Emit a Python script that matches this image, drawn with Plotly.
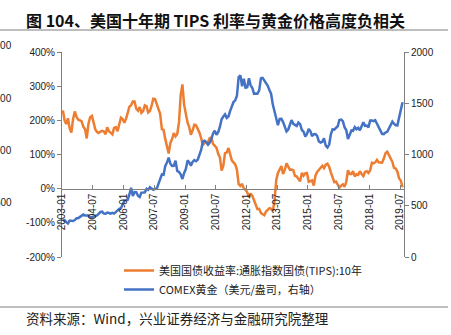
import pandas as pd
import plotly.graph_objects as go

# ---- data (monthly) ----
start_month = "2003-01-01"
tips_10y = [  # 10y TIPS real yield, %  (axis shows x100 as %)
    2.29, 1.99, 1.89, 2.06, 1.77, 1.64, 2.03, 2.26, 2.10, 2.02, 2.00, 1.97,
    1.81, 1.74, 1.47, 1.90, 2.09, 2.13, 1.94, 1.73, 1.66, 1.63, 1.67, 1.69,
    1.67, 1.59, 1.80, 1.68, 1.64, 1.59, 1.78, 1.80, 1.68, 1.90, 2.08, 2.04,
    1.93, 2.05, 2.26, 2.40, 2.44, 2.55, 2.55, 2.34, 2.28, 2.39, 2.22, 2.27,
    2.44, 2.41, 2.23, 2.27, 2.42, 2.63, 2.62, 2.46, 2.30, 2.19, 1.74, 1.72,
    1.45, 1.27, 1.03, 1.34, 1.45, 1.63, 1.53, 1.60, 1.94, 2.74, 3.05, 2.46,
    2.13, 1.93, 1.81, 1.58, 1.70, 1.87, 1.86, 1.77, 1.64, 1.48, 1.27, 1.36,
    1.37, 1.37, 1.48, 1.50, 1.31, 1.25, 1.20, 1.02, 0.91, 0.53, 0.67, 1.04,
    1.06, 1.19, 0.98, 0.83, 0.77, 0.71, 0.55, 0.13, 0.08, 0.14, 0.00, -0.03,
    -0.11, -0.25, -0.14, -0.21, -0.34, -0.50, -0.60, -0.59, -0.71, -0.75, -0.78, -0.67,
    -0.61, -0.57, -0.59, -0.65, -0.36, 0.25, 0.46, 0.55, 0.66, 0.43, 0.55, 0.74,
    0.63, 0.55, 0.56, 0.54, 0.37, 0.36, 0.28, 0.22, 0.46, 0.38, 0.45, 0.46,
    0.20, 0.21, 0.24, 0.09, 0.38, 0.49, 0.54, 0.62, 0.67, 0.60, 0.70, 0.73,
    0.64, 0.47, 0.34, 0.19, 0.21, 0.12, 0.03, 0.09, 0.13, 0.05, 0.20, 0.54,
    0.43, 0.43, 0.51, 0.36, 0.42, 0.40, 0.51, 0.43, 0.37, 0.49, 0.51, 0.46,
    0.54, 0.76, 0.74, 0.77, 0.84, 0.77, 0.77, 0.76, 0.88, 1.04, 1.08, 0.98,
    0.86, 0.78, 0.61, 0.59, 0.50, 0.30, 0.24, 0.04,
]
gold = [  # COMEX gold, USD/oz
    356, 359, 340, 328, 355, 356, 351, 360, 379, 379, 389, 407,
    414, 405, 406, 404, 384, 392, 398, 401, 406, 420, 439, 442,
    424, 423, 434, 429, 422, 430, 424, 438, 456, 470, 476, 510,
    549, 555, 557, 610, 676, 596, 633, 632, 598, 586, 628, 629,
    631, 665, 655, 680, 668, 656, 665, 665, 713, 754, 806, 803,
    889, 923, 969, 910, 889, 890, 940, 840, 830, 807, 761, 817,
    858, 942, 925, 891, 928, 946, 934, 949, 996, 1044, 1128, 1135,
    1118, 1096, 1114, 1149, 1205, 1233, 1193, 1217, 1271, 1343, 1370, 1391,
    1357, 1373, 1424, 1474, 1512, 1529, 1573, 1756, 1772, 1666, 1739, 1652,
    1656, 1743, 1675, 1649, 1592, 1596, 1593, 1626, 1744, 1747, 1722, 1685,
    1671, 1627, 1593, 1487, 1414, 1343, 1286, 1347, 1348, 1316, 1275, 1225,
    1244, 1300, 1336, 1299, 1288, 1279, 1311, 1296, 1239, 1223, 1176, 1200,
    1250, 1227, 1179, 1198, 1199, 1181, 1128, 1117, 1125, 1157, 1086, 1068,
    1097, 1199, 1246, 1243, 1260, 1276, 1337, 1341, 1326, 1266, 1236, 1152,
    1192, 1234, 1231, 1267, 1246, 1260, 1236, 1283, 1315, 1280, 1282, 1265,
    1331, 1331, 1325, 1335, 1303, 1282, 1238, 1202, 1198, 1215, 1221, 1250,
    1291, 1320, 1300, 1285, 1284, 1359, 1413, 1510,
]
x_tick_labels = ["2003-01", "2004-07", "2006-01", "2007-07", "2009-01", "2010-07",
                 "2012-01", "2013-07", "2015-01", "2016-07", "2018-01", "2019-07"]
left_ticks = [-2, -1, 0, 1, 2, 3, 4]
left_tick_text = ["-200%", "-100%", "0%", "100%", "200%", "300%", "400%"]
right_ticks = [0, 500, 1000, 1500, 2000]

dates = pd.date_range(start_month, periods=len(gold), freq="MS") + pd.Timedelta(days=14)
tips_dates = pd.date_range(start_month, periods=len(tips_10y), freq="MS") + pd.Timedelta(days=14)
tick_dates = [pd.Timestamp(t + "-01") for t in x_tick_labels]

name_tips = "美国国债收益率:通胀指数国债(TIPS):10年"
name_gold = "COMEX黄金（美元/盎司，右轴）"

W, H = 451, 335
L, R, T, B = 62, 404, 52, 257


def px(xp):
    return (xp - L) / (R - L)


def py(yp):
    return (B - yp) / (B - T)


fig = go.Figure()
fig.add_trace(go.Scatter(x=tips_dates, y=tips_10y, name=name_tips, mode="lines",
                         line=dict(color="#ED7D31", width=2.5), yaxis="y"))
fig.add_trace(go.Scatter(x=dates, y=gold, name=name_gold, mode="lines",
                         line=dict(color="#4472C4", width=2.5), yaxis="y2"))

axis_font = dict(family="Liberation Sans, Arial", size=10, color="#222")
fig.update_layout(
    width=W, height=H,
    margin=dict(l=L, r=W - R, t=T, b=H - B, pad=0),
    paper_bgcolor="white", plot_bgcolor="white",
    showlegend=True,
    legend=dict(x=px(119), y=py(256), xanchor="left", yanchor="top",
                font=dict(family="Noto Sans CJK SC", size=11, color="#222"),
                bgcolor="rgba(0,0,0,0)", tracegroupgap=0, itemwidth=30),
    xaxis=dict(type="date", range=["2002-12-30", "2019-09-10"],
               tickvals=tick_dates, ticktext=x_tick_labels, tickangle=-90,
               tickfont=axis_font, showgrid=False, zeroline=False,
               showline=True, linecolor="#808080", linewidth=1,
               ticks="inside", ticklen=4, tickcolor="#808080",
               anchor="free", position=1/3),
    yaxis=dict(range=[-2, 4], tickvals=left_ticks, ticktext=left_tick_text,
               tickfont=axis_font, showgrid=False, zeroline=False,
               showline=True, linecolor="#808080", linewidth=1,
               ticks="outside", ticklen=4, tickcolor="#808080", domain=[0, 1]),
    yaxis2=dict(range=[0, 2000], tickvals=right_ticks, overlaying="y", side="right",
                tickfont=axis_font, showgrid=False, zeroline=False,
                showline=True, linecolor="#808080", linewidth=1,
                ticks="outside", ticklen=4, tickcolor="#808080"),
    font=dict(family="Liberation Sans, Arial", size=10, color="#222"),
)

# title, separators and source
fig.add_annotation(text="<b>图 104、美国十年期 TIPS 利率与黄金价格高度负相关</b>",
                   xref="paper", yref="paper", x=px(24), y=py(20),
                   xanchor="left", yanchor="middle", showarrow=False,
                   font=dict(family="Noto Sans CJK SC", size=16, color="#111"))
fig.add_annotation(text="资料来源：Wind，兴业证券经济与金融研究院整理",
                   xref="paper", yref="paper", x=px(24), y=py(318),
                   xanchor="left", yanchor="middle", showarrow=False,
                   font=dict(family="Noto Sans CJK SC", size=13.5, color="#222"))
for yline in (30, 307):
    fig.add_shape(type="line", xref="paper", yref="paper",
                  x0=px(0), x1=px(448), y0=py(yline), y1=py(yline),
                  line=dict(color="#7f7f7f", width=1))

# cut-off labels of a neighbouring chart at the left edge
for txt, yy in (("2000", 46), ("1500", 98), ("1000", 150), ("500", 202)):
    fig.add_annotation(text=txt, xref="paper", yref="paper", x=px(14), y=py(yy),
                       xanchor="right", yanchor="middle", showarrow=False,
                       font=dict(family="Liberation Sans, Arial", size=10, color="#222"))

fig.write_html("out.html")
